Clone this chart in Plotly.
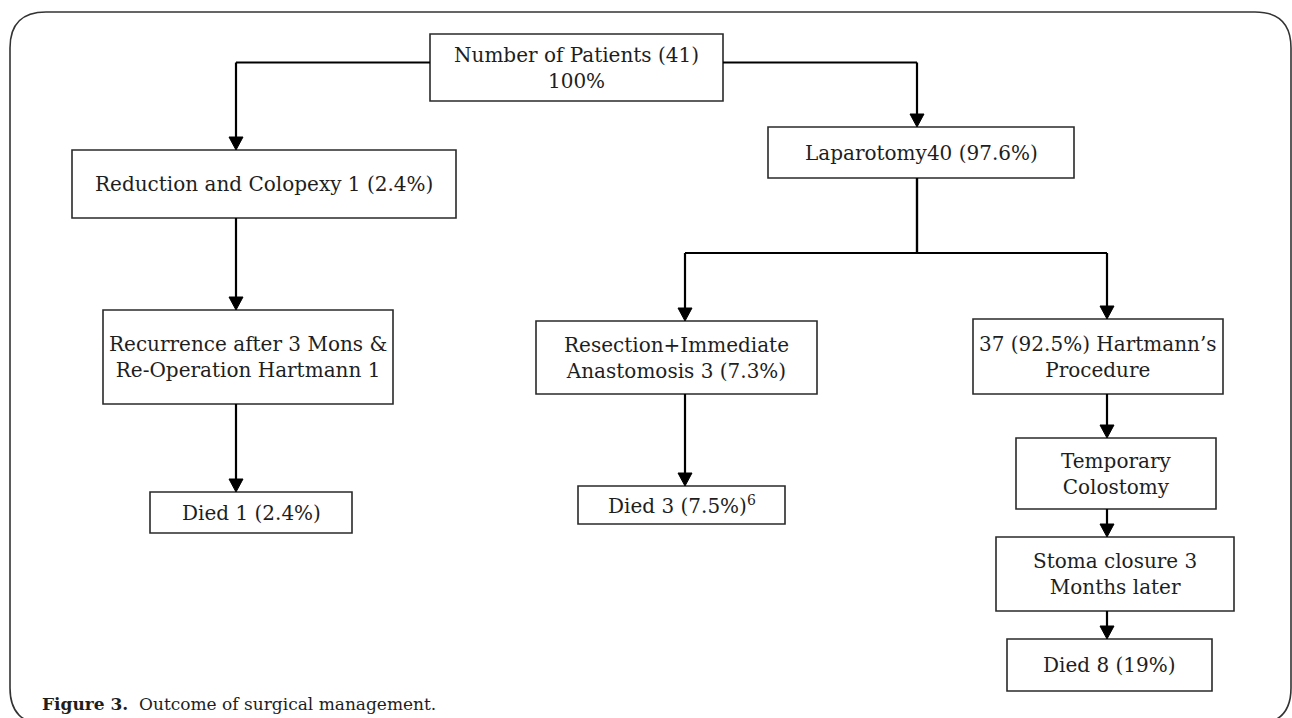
import plotly.graph_objects as go

# ---- data: node labels ----
node_ids = ["total", "reduction", "laparotomy", "recurrence", "resection",
            "hartmann", "died1", "died3", "temporary", "stoma", "died8"]
node_labels = [
    "Number of Patients (41)<br>100%",
    "Reduction and Colopexy 1 (2.4%)",
    "Laparotomy40 (97.6%)",
    "Recurrence after 3 Mons &<br>Re-Operation Hartmann 1",
    "Resection+Immediate<br>Anastomosis 3 (7.3%)",
    "37 (92.5%) Hartmann\u2019s<br>Procedure",
    "Died 1 (2.4%)",
    "Died 3 (7.5%)<sup>6</sup>",
    "Temporary<br>Colostomy",
    "Stoma closure 3<br>Months later",
    "Died 8 (19%)",
]
edges_from = ["total", "total", "reduction", "recurrence", "laparotomy", "laparotomy",
              "resection", "hartmann", "temporary", "stoma"]
edges_to = ["reduction", "laparotomy", "recurrence", "died1", "resection", "hartmann",
            "died3", "temporary", "stoma", "died8"]
caption_bold = "Figure 3."
caption_text = "Outcome of surgical management."

# ---- layout geometry (pixels, x0, x1, y0, y1) ----
W, H = 1292, 718
box = {
    "total": (430, 723, 34, 101),
    "reduction": (72, 456, 150, 218),
    "laparotomy": (768, 1074, 127, 178),
    "recurrence": (103, 393, 310, 404),
    "resection": (536, 817, 321, 394),
    "hartmann": (973, 1223, 319, 394),
    "died1": (150, 352, 492, 533),
    "died3": (578, 785, 486, 524),
    "temporary": (1016, 1216, 438, 509),
    "stoma": (996, 1234, 537, 611),
    "died8": (1007, 1212, 639, 691),
}
# x position of the vertical arrow entering each target
entry_x = {"reduction": 236, "laparotomy": 917, "recurrence": 236, "died1": 236,
           "resection": 685, "hartmann": 1107, "died3": 685, "temporary": 1107,
           "stoma": 1107, "died8": 1107}
branch_y = {"laparotomy": 253}

FONT = "DejaVu Serif"
INK = "#1e1e1e"
shapes = []
annotations = []

# outer rounded frame
r = 36
fx0, fx1, fy0, fy1 = 10, 1291, 12, 724
shapes.append(dict(
    type="path", xref="x", yref="y",
    path=(f"M {fx0+r},{fy0} L {fx1-r},{fy0} Q {fx1},{fy0} {fx1},{fy0+r} "
          f"L {fx1},{fy1-r} Q {fx1},{fy1} {fx1-r},{fy1} L {fx0+r},{fy1} "
          f"Q {fx0},{fy1} {fx0},{fy1-r} L {fx0},{fy0+r} Q {fx0},{fy0} {fx0+r},{fy0} Z"),
    line=dict(color="#333333", width=1.6), fillcolor="rgba(0,0,0,0)"))

# boxes + labels
for nid, lab in zip(node_ids, node_labels):
    x0, x1, y0, y1 = box[nid]
    shapes.append(dict(type="rect", xref="x", yref="y", x0=x0, x1=x1, y0=y0, y1=y1,
                       line=dict(color="#2a2a2a", width=1.6), fillcolor="white"))
    annotations.append(dict(x=(x0 + x1) / 2, y=(y0 + y1) / 2, xref="x", yref="y",
                            text=lab, showarrow=False, align="center",
                            font=dict(family=FONT, size=20, color=INK)))

# connectors
def line(xa, ya, xb, yb):
    shapes.append(dict(type="line", xref="x", yref="y", x0=xa, y0=ya, x1=xb, y1=yb,
                       line=dict(color="black", width=2.2)))

def head(x, y):
    hw, hh = 7, 13
    shapes.append(dict(type="path", xref="x", yref="y",
                       path=f"M {x-hw},{y-hh} L {x+hw},{y-hh} L {x},{y} Z",
                       fillcolor="black", line=dict(color="black", width=1)))

for src, dst in zip(edges_from, edges_to):
    sx0, sx1, sy0, sy1 = box[src]
    dx0, dx1, dy0, dy1 = box[dst]
    ex = entry_x[dst]
    if src == "total":
        ymid = (sy0 + sy1) / 2 - 5
        side = sx0 if ex < sx0 else sx1
        line(side, ymid, ex, ymid)
        line(ex, ymid, ex, dy0 - 12)
    elif src in branch_y:
        by = branch_y[src]
        cx = entry_x[src]
        line(cx, sy1, cx, by)
        line(ex, by, cx, by)
        line(ex, by, ex, dy0 - 12)
    else:
        line(ex, sy1, ex, dy0 - 12)
    head(ex, dy0)

# caption
annotations.append(dict(x=40, y=704, xref="x", yref="y", xanchor="left", yanchor="middle",
                        text=f"<b>{caption_bold}</b>  {caption_text}", showarrow=False,
                        font=dict(family=FONT, size=17, color=INK)))

fig = go.Figure()
fig.update_layout(
    width=W, height=H, margin=dict(l=0, r=0, t=0, b=0),
    paper_bgcolor="white", plot_bgcolor="white",
    xaxis=dict(range=[0, W], visible=False, fixedrange=True),
    yaxis=dict(range=[H, 0], visible=False, fixedrange=True),
    shapes=shapes, annotations=annotations, showlegend=False,
)
fig.write_html("out.html", config={"displayModeBar": False},
               post_script="document.body.style.margin='0';document.body.style.overflow='hidden';")
